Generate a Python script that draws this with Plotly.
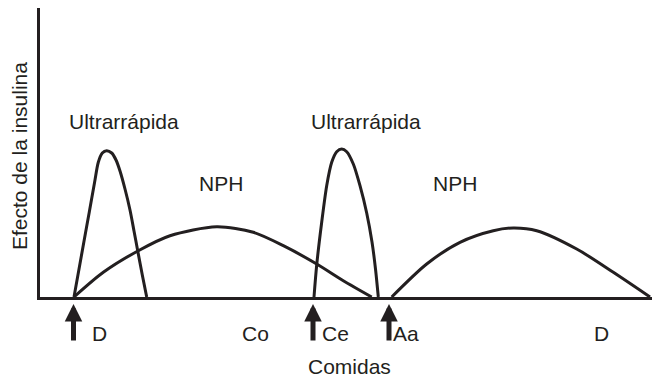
import plotly.graph_objects as go

# Time axis (arbitrary units) and insulin effect (arbitrary units)
ultra1_t = [36, 46.4, 51.3, 56.6, 60.3, 64.3, 68.7, 73.7, 78, 82, 87, 92, 96, 99.7, 104.3, 108.7]
ultra1_e = [0, 58, 85, 114.7, 134.7, 144, 146.3, 144, 137, 126, 108, 87, 66, 46.3, 22, 0]

nph1_t = [36, 65.3, 100.3, 132, 178.7, 215.3, 245.3, 278.7, 305.3, 333.7]
nph1_e = [0, 24.7, 46.3, 61.3, 70.3, 64.7, 51.3, 33, 16.3, 0]

ultra2_t = [276, 278.7, 283.7, 288.7, 293.7, 298.7, 303.7, 308.7, 315.3, 322, 328.7, 334, 337.5, 340.3]
ultra2_e = [0, 32, 74.7, 111.3, 134.7, 145.3, 148, 145.3, 133, 111.3, 84, 55, 28, 0]

nph2_t = [353.7, 388.7, 422, 455.3, 475.3, 498.7, 538.7, 575.3, 612]
nph2_e = [0, 33, 54.7, 66.3, 69, 66.3, 48, 24.7, 0]

# Meals (injection arrows) and meal labels along the time axis
arrow_t = [35.5, 275, 351]
meal_labels = ["D", "Co", "Ce", "Aa", "D"]
meal_label_t = [61.5, 217, 297, 368, 563.5]

# Curve name labels
curve_labels = ["Ultrarrápida", "NPH", "Ultrarrápida", "NPH"]
curve_label_t = [86, 183, 328, 417]
curve_label_e = [176, 114, 176, 114]

INK = "#231f20"
FONT = dict(family="Liberation Sans, Arial, Helvetica, sans-serif", size=21, color=INK)

fig = go.Figure()
for t, e in [(ultra1_t, ultra1_e), (nph1_t, nph1_e), (ultra2_t, ultra2_e), (nph2_t, nph2_e)]:
    fig.add_trace(go.Scatter(
        x=t, y=e, mode="lines",
        line=dict(color=INK, width=3, shape="spline", smoothing=0.8),
        hoverinfo="skip", showlegend=False,
    ))

annotations = []
for text, t, e in zip(curve_labels, curve_label_t, curve_label_e):
    annotations.append(dict(x=t, y=e, xref="x", yref="y", text=text, showarrow=False,
                            xanchor="center", yanchor="middle", font=FONT))

# Items below the time axis are placed in pixels under the axis baseline
for text, t in zip(meal_labels, meal_label_t):
    annotations.append(dict(x=t, y=0, xref="x", yref="paper", yshift=-36, text=text,
                            showarrow=False, xanchor="center", yanchor="middle", font=FONT))

for t in arrow_t:
    annotations.append(dict(x=t, y=0, xref="x", yref="paper", yshift=-7, text="",
                            showarrow=True, ax=0, ay=38, arrowhead=2, arrowsize=0.7,
                            arrowwidth=5, arrowcolor=INK, standoff=0))

annotations.append(dict(x=311.7, y=0, xref="x", yref="paper", yshift=-69, text="Comidas",
                        showarrow=False, xanchor="center", yanchor="middle", font=FONT))
annotations.append(dict(x=0, y=141, xref="paper", yref="y", xshift=-21,
                        text="Efecto de la insulina", textangle=-90, showarrow=False,
                        xanchor="center", yanchor="middle", font=FONT))

fig.update_layout(
    width=652, height=379,
    margin=dict(l=40, r=0, t=8, b=82),
    paper_bgcolor="white", plot_bgcolor="white",
    xaxis=dict(range=[2, 614], showline=True, linecolor=INK, linewidth=3,
               showgrid=False, zeroline=False, showticklabels=False, ticks=""),
    yaxis=dict(range=[0, 289], showline=True, linecolor=INK, linewidth=3,
               showgrid=False, zeroline=False, showticklabels=False, ticks=""),
    annotations=annotations,
)

fig.write_html("out.html")
